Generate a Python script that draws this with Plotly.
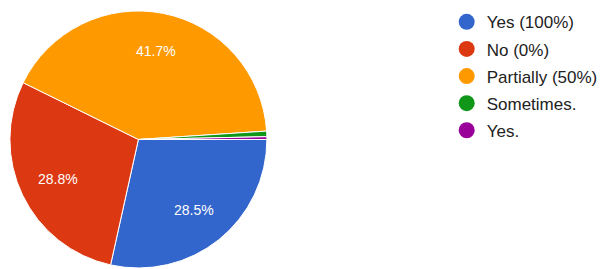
import math
import plotly.graph_objects as go

labels = ["Yes (100%)", "No (0%)", "Partially (50%)", "Sometimes.", "Yes."]
counts = [82, 83, 120, 2, 1]
colors = ["#3366cc", "#dc3912", "#ff9900", "#109618", "#990099"]
show_label = [True, True, True, False, False]

W, H = 603, 269
dom_x = [0.0166, 0.4478]
dom_y = [0.0, 0.963]
start_bearing = 90  # first slice starts at 3 o'clock, clockwise
label_r = 0.70

fig = go.Figure()
fig.add_trace(go.Pie(
    labels=labels, values=counts, sort=False, direction="clockwise", rotation=start_bearing,
    marker=dict(colors=colors, line=dict(color="white", width=1)),
    textinfo="none", showlegend=False, hoverinfo="label+percent",
    domain=dict(x=dom_x, y=dom_y),
))

# percentage labels placed at a fixed fraction of the radius, derived from the data
total = sum(counts)
cx = (dom_x[0] + dom_x[1]) / 2 * W
cy = (1 - (dom_y[0] + dom_y[1]) / 2) * H
radius = min((dom_x[1] - dom_x[0]) * W, (dom_y[1] - dom_y[0]) * H) / 2
cum = 0
for v, show in zip(counts, show_label):
    mid = start_bearing + (cum + v / 2) / total * 360
    cum += v
    if not show:
        continue
    a = math.radians(mid)
    px = cx + label_r * radius * math.sin(a)
    py = cy - label_r * radius * math.cos(a)
    fig.add_annotation(
        x=px / W, y=1 - py / H, xref="paper", yref="paper", showarrow=False,
        text=f"{v / total * 100:.1f}%", font=dict(color="white", size=14, family="Arial"),
        xanchor="center", yanchor="middle",
    )

for i, (lab, col) in enumerate(zip(labels, colors)):
    fig.add_trace(go.Scatter(
        x=[None], y=[None], mode="markers", name=lab, legendgroup=str(i),
        marker=dict(symbol="circle", size=16, color=col),
    ))

fig.update_layout(
    width=W, height=H, margin=dict(l=0, r=0, t=0, b=0),
    paper_bgcolor="white", plot_bgcolor="white",
    xaxis=dict(visible=False), yaxis=dict(visible=False),
    legend=dict(x=0.7495, y=0.984, xanchor="left", yanchor="top", traceorder="grouped",
                tracegroupgap=2, font=dict(size=17, color="#222222", family="Arial"),
                itemsizing="trace", bgcolor="rgba(0,0,0,0)"),
    font=dict(family="Arial"),
)
fig.write_html("out.html")
